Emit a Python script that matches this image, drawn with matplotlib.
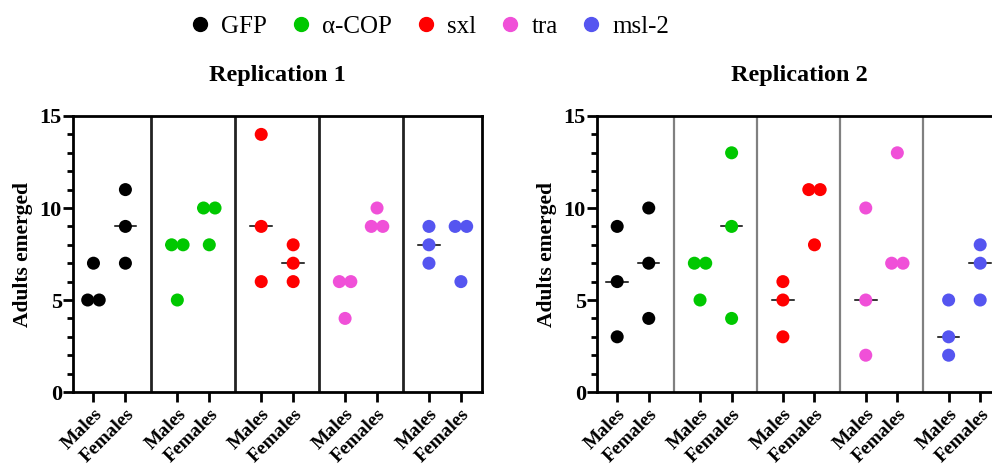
import numpy as np
import matplotlib
matplotlib.use("Agg")
import matplotlib.pyplot as plt
from matplotlib.lines import Line2D

plt.rcParams["font.family"] = ["Liberation Serif", "DejaVu Serif"]

# Adults emerged per replicate vial, (males, females) for each construct
genes = ["GFP", "α-COP", "sxl", "tra", "msl-2"]
colors = ["#000000", "#00C800", "#FF0000", "#F050D8", "#5555F0"]
sexes = ["Males", "Females"]

rep1 = {
    "GFP": ([5, 5, 7], [7, 9, 11]),
    "α-COP": ([8, 8, 5], [10, 10, 8]),
    "sxl": ([14, 9, 6], [8, 7, 6]),
    "tra": ([6, 6, 4], [10, 9, 9]),
    "msl-2": ([9, 8, 7], [9, 9, 6]),
}
rep2 = {
    "GFP": ([9, 6, 3], [10, 7, 4]),
    "α-COP": ([7, 7, 5], [13, 9, 4]),
    "sxl": ([6, 5, 3], [11, 11, 8]),
    "tra": ([10, 5, 2], [13, 7, 7]),
    "msl-2": ([5, 3, 2], [8, 7, 5]),
}

GROUP_STEP = 2.625
JITTER = 0.18


def swarm_offsets(values):
    """Spread repeated values sideways so the dots sit next to each other."""
    values = np.asarray(values)
    offsets = np.zeros(len(values))
    for v in np.unique(values):
        idx = np.where(values == v)[0]
        if len(idx) > 1:
            offsets[idx] = np.linspace(-JITTER, JITTER, len(idx))
    return offsets


def draw_panel(ax, data, title, sep_color, sep_lw):
    ticks, labels = [], []
    for g, gene in enumerate(genes):
        for s, vals in enumerate(data[gene]):
            x0 = g * GROUP_STEP + s
            med = np.median(vals)
            ax.plot([x0 - 0.34, x0 + 0.34], [med, med], color="black",
                    lw=1.1, zorder=2)
            ax.scatter(x0 + swarm_offsets(vals), vals, s=88,
                       color=colors[g], edgecolors="none", zorder=3)
            ticks.append(x0)
            labels.append(sexes[s])
        if g < len(genes) - 1:
            ax.axvline(g * GROUP_STEP + 1.81, color=sep_color, lw=sep_lw,
                       zorder=1)

    ax.set_xlim(-0.64, (len(genes) - 1) * GROUP_STEP + 1.66)
    ax.set_ylim(0, 15)
    ax.set_yticks([0, 5, 10, 15])
    ax.set_yticks(range(16), minor=True)
    ax.set_xticks(ticks)
    ax.set_xticklabels(labels, rotation=45, ha="right",
                       rotation_mode="anchor", fontweight="bold",
                       fontsize=14)
    for lab in ax.get_yticklabels():
        lab.set_fontweight("bold")
        lab.set_fontsize(16)
    ax.tick_params(axis="both", which="major", direction="out", length=7,
                   width=2)
    ax.tick_params(axis="y", which="minor", direction="out", length=4,
                   width=2)
    ax.tick_params(axis="x", pad=3)
    ax.tick_params(axis="y", pad=1)
    for sp in ax.spines.values():
        sp.set_linewidth(2)
    ax.set_ylabel("Adults emerged", fontsize=15.5, fontweight="bold",
                  labelpad=5)
    ax.set_title(title, fontsize=17.5, fontweight="bold", pad=25)


fig = plt.figure(figsize=(9.92, 4.75), dpi=100)
ax1 = fig.add_axes([0.0736, 0.1747, 0.4123, 0.5811])
ax2 = fig.add_axes([0.6018, 0.1747, 0.4073, 0.5811])

draw_panel(ax1, rep1, "Replication 1", "#222222", 2.0)
draw_panel(ax2, rep2, "Replication 2", "#808080", 1.6)

handles = [Line2D([], [], marker="o", ls="none", color=c, markersize=10)
           for c in colors]
fig.legend(handles, genes, loc="upper center", bbox_to_anchor=(0.432, 1.015),
           ncol=5, frameon=False, fontsize=18, handlelength=1.0,
           handletextpad=0.35, columnspacing=0.85)

fig.savefig("out.png", dpi=100)
